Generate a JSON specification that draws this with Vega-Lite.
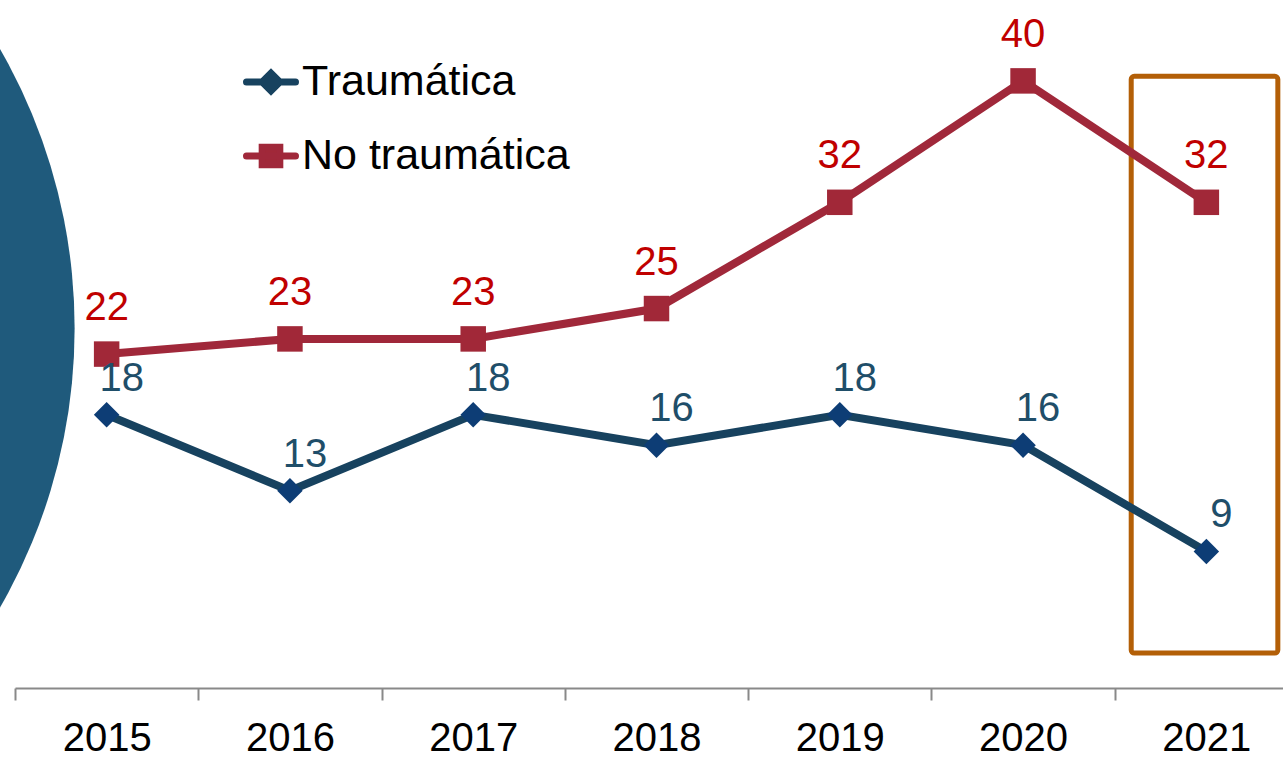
{
  "$schema": "https://vega.github.io/schema/vega-lite/v6.json",
  "width": 1283,
  "height": 683,
  "autosize": {"type": "none"},
  "padding": {"left": 15, "top": 5, "right": 0, "bottom": 69},
  "background": "white",
  "config": {"view": {"stroke": null}, "font": "Liberation Sans"},
  "datasets": {
    "series": [
      {"year": "2015", "series": "Traumática", "value": 18},
      {"year": "2016", "series": "Traumática", "value": 13},
      {"year": "2017", "series": "Traumática", "value": 18},
      {"year": "2018", "series": "Traumática", "value": 16},
      {"year": "2019", "series": "Traumática", "value": 18},
      {"year": "2020", "series": "Traumática", "value": 16},
      {"year": "2021", "series": "Traumática", "value": 9},
      {"year": "2015", "series": "No traumática", "value": 22},
      {"year": "2016", "series": "No traumática", "value": 23},
      {"year": "2017", "series": "No traumática", "value": 23},
      {"year": "2018", "series": "No traumática", "value": 25},
      {"year": "2019", "series": "No traumática", "value": 32},
      {"year": "2020", "series": "No traumática", "value": 40},
      {"year": "2021", "series": "No traumática", "value": 32}
    ],
    "circle": [{"x": 2011.77, "y": 23.7}],
    "box": [{"x": 2020.59, "x2": 2021.39, "y": 40.3, "y2": 2.3}]
  },
  "resolve": {"scale": {"x": "independent"}},
  "layer": [
    {
      "layer": [
        {
          "data": {"name": "circle"},
          "mark": {"type": "point", "shape": "circle", "filled": true, "size": 1254400, "color": "#1F5A7C", "opacity": 1},
          "encoding": {
            "x": {"field": "x", "type": "quantitative", "scale": {"domain": [2014.5, 2021.5], "nice": false, "zero": false}, "axis": null},
            "y": {"field": "y", "type": "quantitative", "scale": {"domain": [0, 45], "nice": false}, "axis": null}
          }
        },
        {
          "data": {"name": "box"},
          "mark": {"type": "rect", "fill": null, "stroke": "#B35F07", "strokeWidth": 5, "cornerRadius": 3},
          "encoding": {
            "x": {"field": "x", "type": "quantitative", "scale": {"domain": [2014.5, 2021.5], "nice": false, "zero": false}, "axis": null},
            "x2": {"field": "x2"},
            "y": {"field": "y", "type": "quantitative", "axis": null},
            "y2": {"field": "y2"}
          }
        }
      ]
    },
    {
      "data": {"name": "series"},
      "encoding": {
        "x": {
          "field": "year", "type": "ordinal", "bandPosition": 0.5,
          "scale": {"type": "band", "paddingInner": 0, "paddingOuter": 0},
          "axis": {"title": null, "labelFontSize": 40, "labelColor": "#000000", "labelFont": "Liberation Sans", "labelAngle": 0, "domainColor": "#898989", "domainWidth": 2, "tickColor": "#898989", "tickWidth": 2, "tickSize": 12, "tickBand": "extent", "labelPadding": 18, "grid": false}
        },
        "y": {"field": "value", "type": "quantitative", "scale": {"domain": [0, 45], "nice": false}, "axis": null}
      },
      "layer": [
        {
          "mark": {"type": "line", "strokeWidth": 8},
          "encoding": {
            "color": {
              "field": "series", "type": "nominal",
              "scale": {"domain": ["Traumática", "No traumática"], "range": ["#17425F", "#A0283A"]},
              "legend": {
                "orient": "none", "legendX": 228, "legendY": 49, "title": null, "padding": 0,
                "symbolSize": 2401, "rowPadding": 23, "labelFontSize": 43, "labelFont": "Liberation Sans", "labelColor": "#000000", "labelOffset": 3, "labelLimit": 500,
                "encode": {
                  "symbols": {
                    "update": {
                      "shape": {"signal": "datum.value === 'Traumática' ? 'M-1,0H1M0,-0.36L0.36,0L0,0.36L-0.36,0Z' : 'M-1,0H1M-0.36,-0.36H0.36V0.36H-0.36Z'"},
                      "fill": {"signal": "datum.value === 'Traumática' ? '#0D3D75' : '#A12838'"},
                      "stroke": {"signal": "datum.value === 'Traumática' ? '#17425F' : '#A0283A'"},
                      "strokeWidth": {"value": 7},
                      "strokeCap": {"value": "round"},
                      "opacity": {"value": 1}
                    }
                  }
                }
              }
            }
          }
        },
        {
          "transform": [{"filter": "datum.series === 'Traumática'"}],
          "mark": {"type": "point", "filled": true, "opacity": 1, "size": 650, "shape": "diamond", "color": "#0D3D75"}
        },
        {
          "transform": [{"filter": "datum.series === 'No traumática'"}],
          "mark": {"type": "point", "filled": true, "opacity": 1, "size": 650, "shape": "square", "color": "#A12838"}
        },
        {
          "transform": [{"filter": "datum.series === 'Traumática'"}],
          "mark": {"type": "text", "fontSize": 40, "font": "Liberation Sans", "dx": 15, "dy": -36, "color": "#1F4E69"},
          "encoding": {"text": {"field": "value", "type": "quantitative"}}
        },
        {
          "transform": [{"filter": "datum.series === 'No traumática'"}],
          "mark": {"type": "text", "fontSize": 40, "font": "Liberation Sans", "dy": -46, "color": "#C00000"},
          "encoding": {"text": {"field": "value", "type": "quantitative"}}
        }
      ]
    }
  ]
}
